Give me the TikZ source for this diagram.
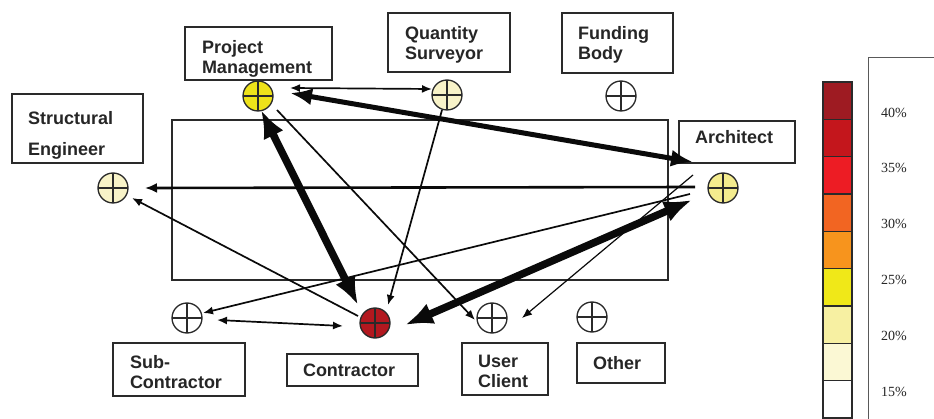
\documentclass[tikz,border=0pt]{standalone}
\usepackage{fontspec}
\setmainfont{Liberation Sans}
\newfontfamily\legendfont{Liberation Serif}
\usetikzlibrary{arrows.meta,calc}
\definecolor{boxline}{HTML}{2A2A2A}
\definecolor{txt}{HTML}{262626}
\definecolor{circline}{HTML}{2A2A2A}
\definecolor{arrowc}{HTML}{0A0A0A}
\definecolor{cPM}{HTML}{EEE21A}
\definecolor{cPale}{HTML}{F8F3C8}
\definecolor{cAR}{HTML}{F4EC8E}
\definecolor{cCO}{HTML}{B3181F}
\definecolor{L1}{HTML}{9E1B22}
\definecolor{L2}{HTML}{C4161C}
\definecolor{L3}{HTML}{ED1C24}
\definecolor{L4}{HTML}{F26522}
\definecolor{L5}{HTML}{F7941D}
\definecolor{L6}{HTML}{F0E818}
\definecolor{L7}{HTML}{F7F0A2}
\definecolor{L8}{HTML}{FBF8D4}
\definecolor{L9}{HTML}{FFFFFF}
\tikzset{
  tipS/.tip={Latex[length=10pt,width=8pt]},
  tipM/.tip={Latex[length=12pt,width=10pt]},
  tipL/.tip={Latex[length=22pt,width=17pt]},
  tipXL/.tip={Latex[length=28pt,width=22pt]},
}
\begin{document}
\begin{tikzpicture}[x=1pt,y=-1pt,
  box/.style={draw=boxline, line width=1.3pt, align=left, text=txt,
    font=\fontsize{18}{20}\selectfont\bfseries, inner ysep=0pt},
  actor/.style={circle, draw=circline, line width=1.3pt, minimum size=30pt, inner sep=0pt,
    path picture={\draw[line width=1.2pt,circline]
      (path picture bounding box.north) -- (path picture bounding box.south)
      (path picture bounding box.west) -- (path picture bounding box.east);}},
  connS/.style={line width=1.7pt, draw=arrowc},
  connM/.style={line width=2.6pt, draw=arrowc},
  connL/.style={line width=5pt, draw=arrowc},
  connXL/.style={line width=7.5pt, draw=arrowc},
  legtxt/.style={font=\legendfont\fontsize{14}{16}\selectfont, text=txt, anchor=west, inner sep=0pt},
]
\useasboundingbox (0,0) rectangle (934,419);
\fill[white] (0,0) rectangle (934,419);

% central frame
\draw[boxline, line width=1.3pt] (172,120) rectangle (668,280);

% boxes
\node[box, text depth=14pt, minimum width=147pt, minimum height=53pt, text width=113pt, inner xsep=17pt] (pmbox) at (258.5,53.5) {Project\\Management};
\node[box, text depth=20pt, minimum width=122pt, minimum height=59pt, text width=88pt, inner xsep=17pt] (qsbox) at (449,42.5) {Quantity\\Surveyor};
\node[box, text depth=20pt, minimum width=111pt, minimum height=60pt, text width=79pt, inner xsep=16pt] (fbbox) at (617.5,43) {Funding\\Body};
\node[box, text depth=21pt, minimum width=131pt, minimum height=69pt, text width=99pt, inner xsep=16pt] (sebox) at (77.5,128.5) {Structural\\[11pt]Engineer};
\node[box, text depth=11pt, minimum width=116pt, minimum height=42pt, text width=84pt, inner xsep=16pt] (arbox) at (737,142) {Architect};
\node[box, text depth=15pt, minimum width=132pt, minimum height=53pt, text width=98pt, inner xsep=17pt] (scbox) at (179,369.5) {Sub-\\Contractor};
\node[box, minimum width=131pt, minimum height=32pt, text width=99pt, inner xsep=16pt] (cobox) at (352.5,370) {Contractor};
\node[box, text depth=15pt, minimum width=86pt, minimum height=52pt, text width=54pt, inner xsep=16pt] (ucbox) at (505,369) {User\\Client};
\node[box, minimum width=88pt, minimum height=40pt, text width=56pt, inner xsep=16pt] (otbox) at (621,363) {Other};

% actors
\node[actor, fill=cPM] (pm) at (258,96) {};
\node[actor, fill=cPale] (qs) at (447,95) {};
\node[actor, fill=white] (fb) at (621,96) {};
\node[actor, fill=cPale] (se) at (113,188) {};
\node[actor, fill=cAR] (ar) at (723,188) {};
\node[actor, fill=white] (sc) at (187,318) {};
\node[actor, fill=cCO] (co) at (375,323) {};
\node[actor, fill=white] (uc) at (492,318) {};
\node[actor, fill=white] (ot) at (592,317) {};

% connectors
\draw[connS, {tipS}-{tipS}] ($(pm)+(32,-8)$) -- ($(qs)+(-15,-6)$);
\draw[connL, {tipL}-{tipL}] ($(pm)+(32,-3)$) -- ($(ar)+(-30,-26)$);
\draw[connXL, {tipXL}-{tipXL}] ($(pm)+(3,14)$) -- ($(co)+(-17,-18)$);
\draw[connS, -{tipS}] ($(pm)+(19,14)$) -- ($(uc)+(-17,2)$);
\draw[connS, -{tipS}] ($(qs)+(-5,15)$) -- ($(co)+(13,-18)$);
\draw[connM, -{tipM}] ($(ar)+(-28,-1)$) -- ($(se)+(32,0)$);
\draw[connS, -{tipS}] ($(co)+(-17,-7)$) -- ($(se)+(19,10)$);
\draw[connS, -{tipS}] ($(ar)+(-33,6)$) -- ($(sc)+(16,-5)$);
\draw[connS, {tipS}-{tipS}] ($(sc)+(30,2)$) -- ($(co)+(-32,3)$);
\draw[connXL, {tipXL}-{tipXL}] ($(co)+(30,2)$) -- ($(ar)+(-31,12)$);
\draw[connS, line width=1.2pt, -{tipS}] ($(ar)+(-30,-13)$) -- ($(uc)+(30,0)$);

% legend
\foreach \c [count=\i from 0] in {L1,L2,L3,L4,L5,L6,L7,L8,L9} {
  \fill[\c] (823,{82+37.33*\i}) rectangle (852,{82+37.33*(\i+1)});
  \draw[boxline, line width=1.2pt] (823,{82+37.33*\i}) rectangle (852,{82+37.33*(\i+1)});
}
\draw[gray!70!black, line width=0.9pt] (934,57) -- (868,57) -- (868,419);
\node[legtxt] (l40) at (881,113) {40\%};
\node[legtxt] (l35) at (881,168) {35\%};
\node[legtxt] (l30) at (881,224) {30\%};
\node[legtxt] (l25) at (881,280) {25\%};
\node[legtxt] (l20) at (881,336) {20\%};
\node[legtxt] (l15) at (881,392) {15\%};
\end{tikzpicture}
\end{document}
